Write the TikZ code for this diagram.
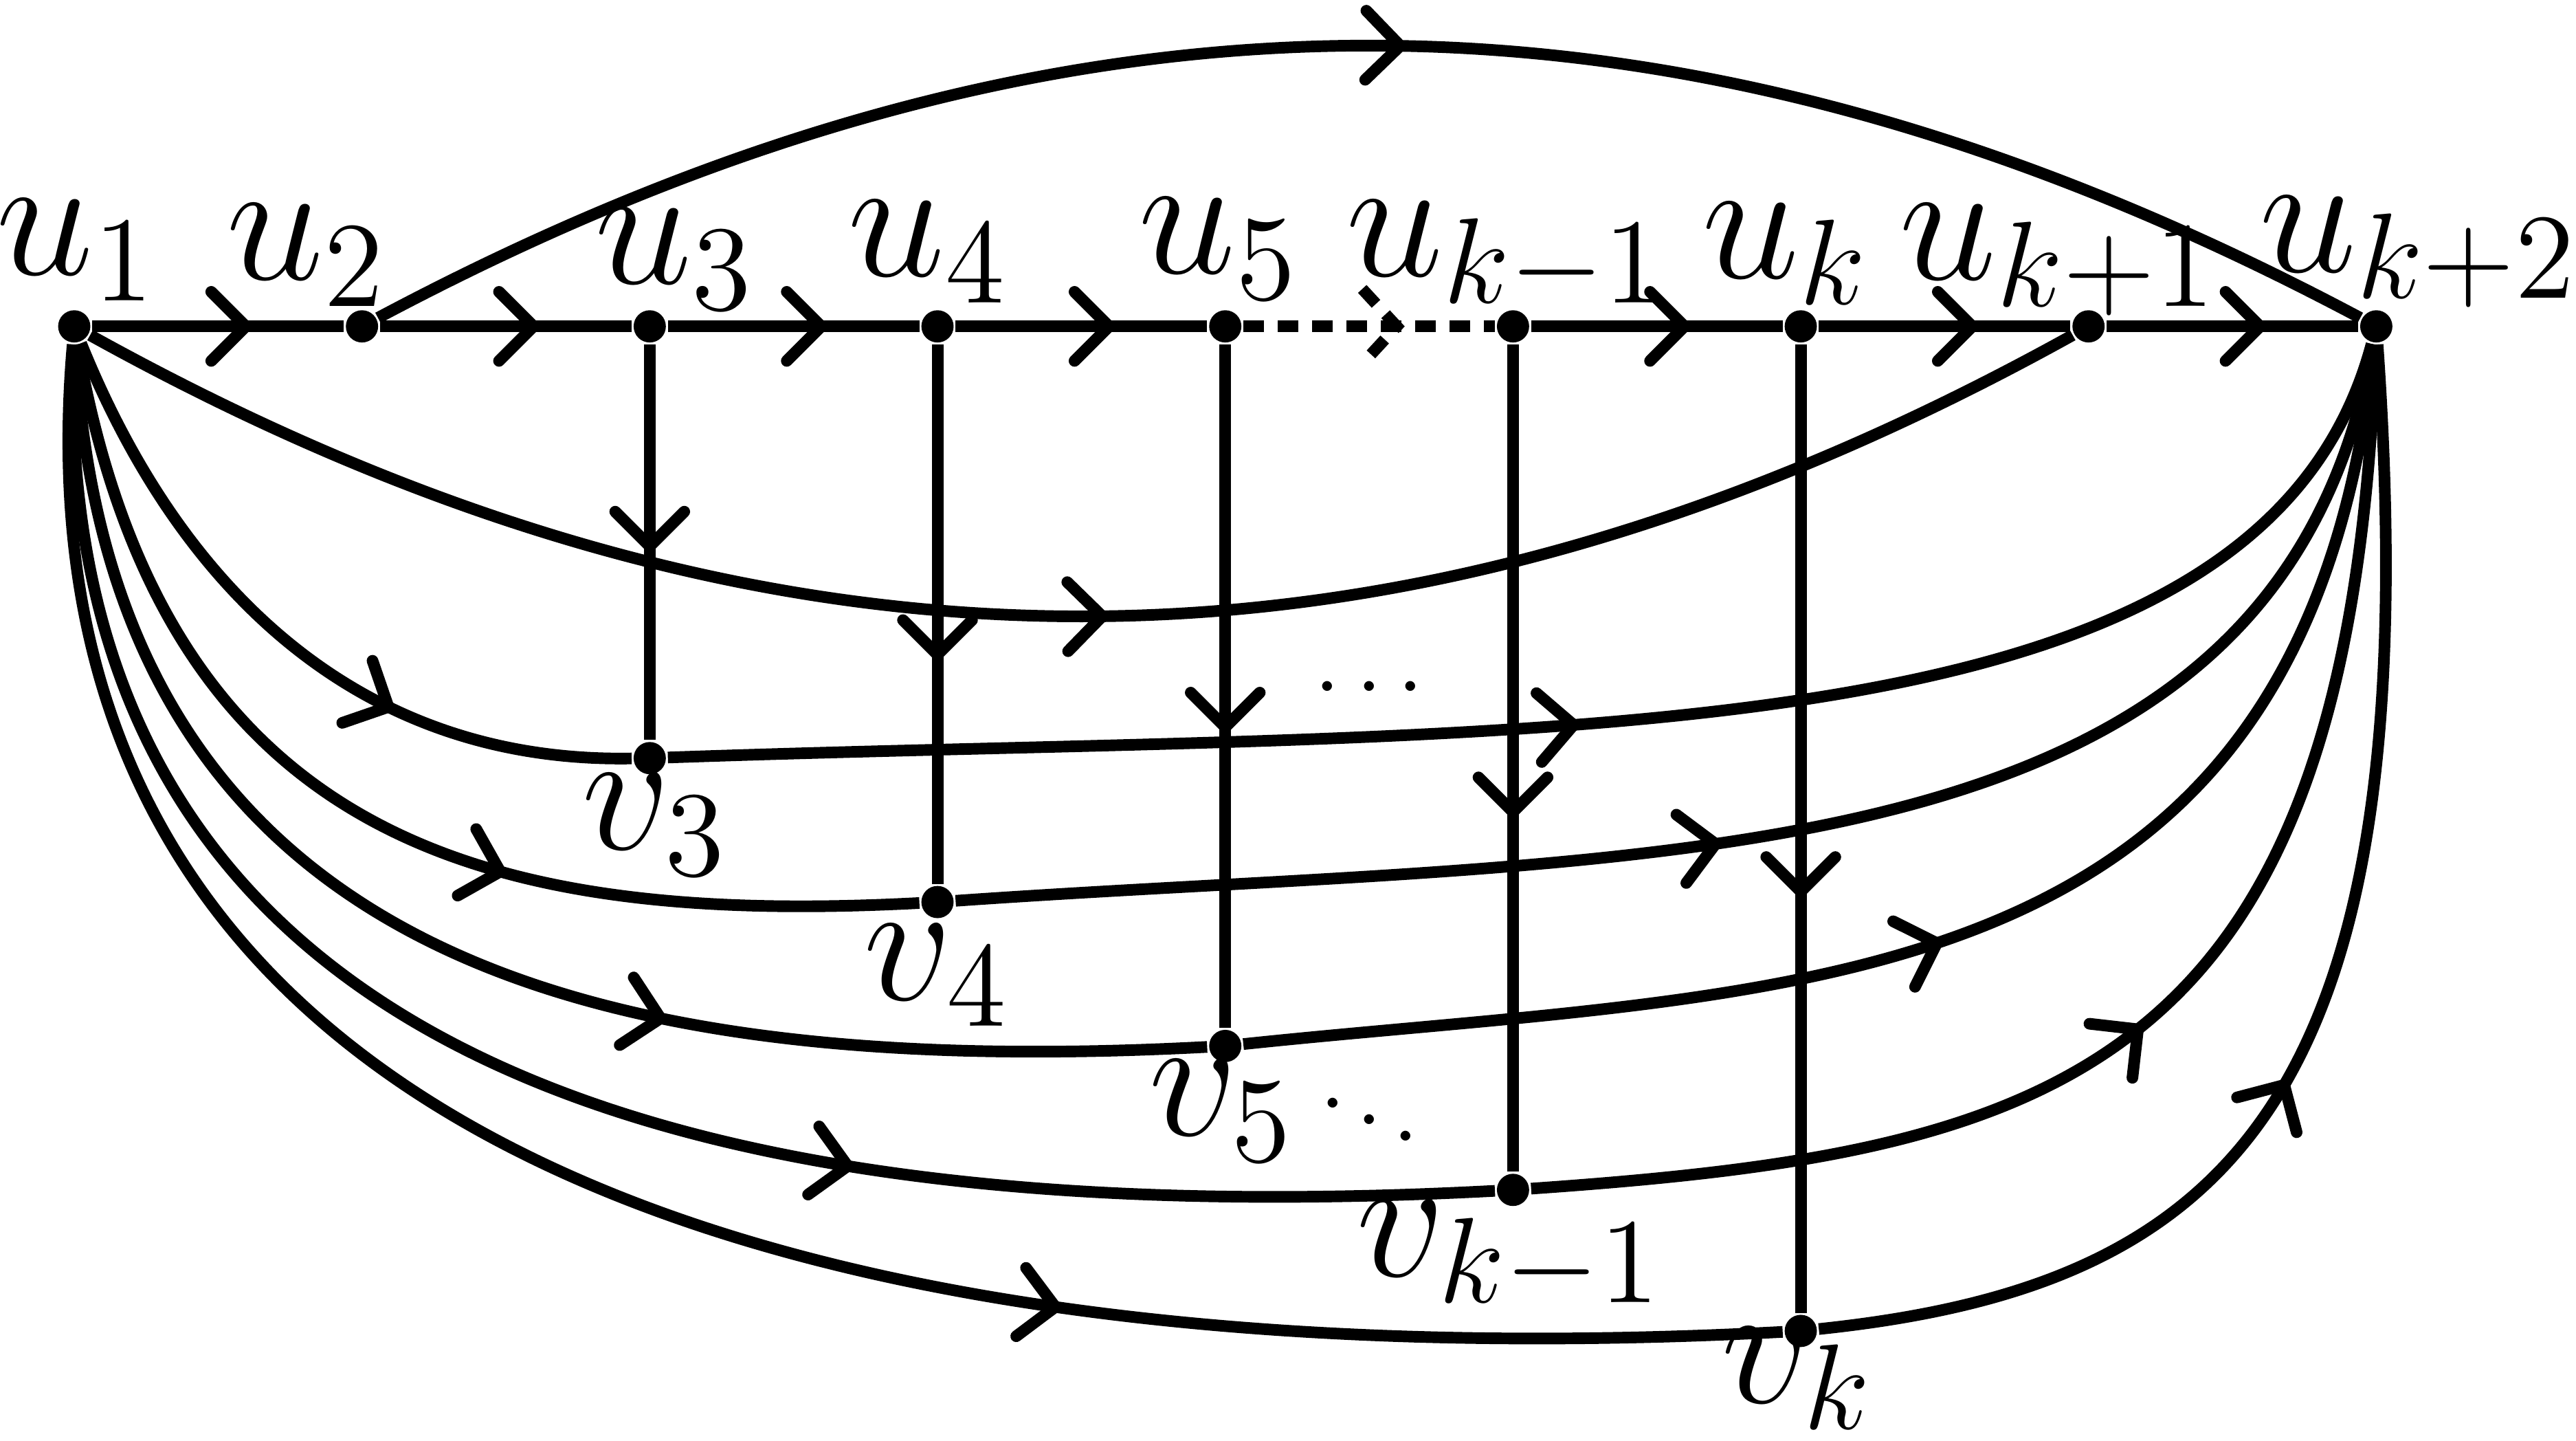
\documentclass[tikz,border=0pt]{standalone}
\usetikzlibrary{decorations.markings}
\begin{document}
\begin{tikzpicture}[
  edge/.style={line width=1.15pt},
  dotnode/.style={circle, fill=black, draw=none, inner sep=0pt, minimum size=0.112cm},
  lab/.style={anchor=base, inner sep=0pt, font=\LARGE},
  midarr/.style={postaction={decorate, decoration={markings, mark=at position #1 with {\draw[line width=1.15pt, line cap=round, line join=round, solid] (-0.12,0.12) -- (0,0) -- (-0.12,-0.12);}}}},
  dasharr/.style={postaction={decorate, decoration={markings, mark=at position #1 with {\draw[line width=1.15pt, dash pattern=on 2pt off 1.4pt] (-0.12,0.13) -- (0,0) -- (-0.12,-0.13);}}}},
]
\useasboundingbox (-0.258,-3.871) rectangle (8.694,1.134);

% vertices
\node[dotnode] (u1) at (0,0) {};
\node[dotnode] (u2) at (1,0) {};
\node[dotnode] (u3) at (2,0) {};
\node[dotnode] (u4) at (3,0) {};
\node[dotnode] (u5) at (4,0) {};
\node[dotnode] (ukm) at (5,0) {};
\node[dotnode] (uk) at (6,0) {};
\node[dotnode] (ukp) at (7,0) {};
\node[dotnode] (ukpp) at (8,0) {};
\node[dotnode] (v3) at (2,-1.5) {};
\node[dotnode] (v4) at (3,-2) {};
\node[dotnode] (v5) at (4,-2.5) {};
\node[dotnode] (vkm) at (5,-3) {};
\node[dotnode] (vk) at (6,-3.49) {};

% labels
\node[lab] (lu1) at (0.01,0.18) {$u_1$};
\node[lab] (lu2) at (0.81,0.162) {$u_2$};
\node[lab] (lu3) at (2.09,0.148) {$u_3$};
\node[lab] (lu4) at (2.97,0.174) {$u_4$};
\node[lab] (lu5) at (3.98,0.184) {$u_5$};
\node[lab] (lukm) at (4.98,0.174) {$u_{k-1}$};
\node[lab] (luk) at (5.95,0.167) {$u_k$};
\node[lab] (lukp) at (6.9,0.162) {$u_{k+1}$};
\node[lab] (lukpp) at (8.15,0.19) {$u_{k+2}$};
\node[lab] (lv3) at (2.02,-1.817) {$v_3$};
\node[lab] (lv4) at (3.0,-2.34) {$v_4$};
\node[lab] (lv5) at (3.99,-2.81) {$v_5$};
\node[lab] (lvkm) at (4.99,-3.30) {$v_{k-1}$};
\node[lab] (lvk) at (5.99,-3.74) {$v_k$};
\node[anchor=base, inner sep=0pt, font=\fontsize{9}{11}\selectfont] (hdots) at (4.50,-1.33) {$\cdots$};
\node[anchor=base, inner sep=0pt, font=\fontsize{9}{11}\selectfont] (ddots) at (4.50,-2.83) {$\mkern1mu\raise3.3pt\hbox{.}\mkern2mu\raise1.65pt\hbox{.}\mkern2mu\hbox{.}\mkern1mu$};

% top path
\draw[edge, midarr=0.61] (u1) -- (u2);
\draw[edge, midarr=0.61] (u2) -- (u3);
\draw[edge, midarr=0.61] (u3) -- (u4);
\draw[edge, midarr=0.61] (u4) -- (u5);
\draw[edge, dash pattern=on 2pt off 1.4pt, dasharr=0.61] (u5) -- (ukm);
\draw[edge, midarr=0.61] (ukm) -- (uk);
\draw[edge, midarr=0.61] (uk) -- (ukp);
\draw[edge, midarr=0.61] (ukp) -- (ukpp);

% big arcs
\draw[edge, midarr=0.515] (u2) to[bend left=28] (ukpp);
\draw[edge, midarr=0.51] (u1) to[bend right=29] (ukp);

% verticals
\draw[edge, midarr=0.51] (u3) -- (v3);
\draw[edge, midarr=0.575] (u4) -- (v4);
\draw[edge, midarr=0.56] (u5) -- (v5);
\draw[edge, midarr=0.565] (ukm) -- (vkm);
\draw[edge, midarr=0.565] (uk) -- (vk);

% lower curves
\draw[edge, midarr=0.66] (u1) .. controls +(-68:1.0) and +(181:1.0) .. (v3);
\draw[edge, midarr=0.49] (v3) .. controls +(2:3.1) and +(-105:1.6) .. (ukpp);
\draw[edge, midarr=0.63] (u1) .. controls +(-80:1.8) and +(183:1.6) .. (v4);
\draw[edge, midarr=0.46] (v4) .. controls +(4:2.5) and +(-100:2) .. (ukpp);
\draw[edge, midarr=0.64] (u1) .. controls +(-87:2.2) and +(183:2.2) .. (v5);
\draw[edge, midarr=0.47] (v5) .. controls +(6:2.0) and +(-96:2.4) .. (ukpp);
\draw[edge, midarr=0.66] (u1) .. controls +(-92:2.6) and +(183:2.8) .. (vkm);
\draw[edge, midarr=0.46] (vkm) .. controls +(4:1.9) and +(-92:2.6) .. (ukpp);
\draw[edge, midarr=0.68] (u1) .. controls +(-95:3.1) and +(183:3.0) .. (vk);
\draw[edge, midarr=0.42] (vk) .. controls +(6:1.5) and +(-86:2.7) .. (ukpp);

\end{tikzpicture}
\end{document}
